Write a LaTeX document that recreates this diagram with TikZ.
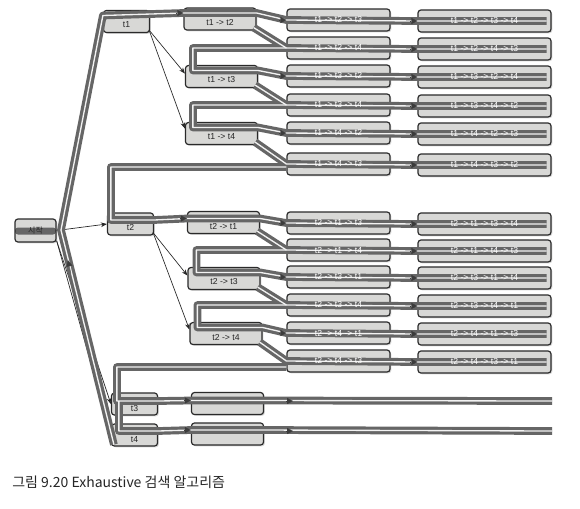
\documentclass[tikz,border=0pt]{standalone}
\usepackage{fontspec}
\setsansfont{Liberation Sans}
\newfontfamily\krfont{Noto Sans CJK KR}
\usetikzlibrary{arrows.meta,calc,shadows}
\definecolor{boxfill}{HTML}{D8D8D6}
\definecolor{boxline}{HTML}{2A2A2A}
\definecolor{trailgray}{HTML}{666666}
\definecolor{tipgray}{HTML}{3C3C3C}
\newcommand\trailpaths{%
  \draw[trail] ($(t4.south west)+(3,-2)$) -- (bendR) -- ($(t1.west)+(0,-6)$) -- ($(a.west)+(0,-6)$) -- ($(a.east)+(0,-6)$) -- (A1.west) -- (FA1.west) -- ($(FA1.east)+(-5,0)$);
  \draw[trail] ($(a.south east)+(-3,-3)$) -- (A2.west) -- (FA2.west) -- ($(FA2.east)+(-5,0)$);
  \draw[trail] (A2.west) -| ($(b.west)+(8,-6)$) -- ($(b.east)+(0,-6)$) -- (A3.west) -- (FA3.west) -- ($(FA3.east)+(-5,0)$);
  \draw[trail] ($(b.south east)+(-3,-3)$) -- (A4.west) -- (FA4.west) -- ($(FA4.east)+(-5,0)$);
  \draw[trail] (A4.west) -| ($(c.west)+(8,-6)$) -- ($(c.east)+(0,-6)$) -- (A5.west) -- (FA5.west) -- ($(FA5.east)+(-5,0)$);
  \draw[trail] ($(c.south east)+(-3,-3)$) -- (A6.west) -- (FA6.west) -- ($(FA6.east)+(-5,0)$);
  \draw[trail] ($(A6.west)+(0,3)$) -| ($(t2.west)+(4,-4)$) -- ($(t2.east)+(0,-4)$) -- ($(d.west)+(0,-4)$) -- ($(d.east)+(0,-4)$) -- (B1.west) -- (FB1.west) -- ($(FB1.east)+(-5,0)$);
  \draw[trail] ($(d.south east)+(-3,-3)$) -- (B2.west) -- (FB2.west) -- ($(FB2.east)+(-5,0)$);
  \draw[trail] (B2.west) -| ($(e.west)+(9,-6)$) -- ($(e.east)+(0,-6)$) -- (B3.west) -- (FB3.west) -- ($(FB3.east)+(-5,0)$);
  \draw[trail] ($(e.south east)+(-3,-3)$) -- (B4.west) -- (FB4.west) -- ($(FB4.east)+(-5,0)$);
  \draw[trail] (B4.west) -| ($(f.west)+(8,-6)$) -- ($(f.east)+(0,-6)$) -- (B5.west) -- (FB5.west) -- ($(FB5.east)+(-5,0)$);
  \draw[trail] ($(f.south east)+(-3,-3)$) -- (B6.west) -- (FB6.west) -- ($(FB6.east)+(-5,0)$);
  \draw[trail] ($(B6.west)+(0,6)$) -| ($(t3.west)+(6,-3)$) -- ($(t3.east)+(0,-3)$) -- ($(g.west)+(0,-3)$) -- ($(g.east)+(0,-3)$) -- (endA);
  \draw[trail] ($(t3.west)+(8,-3)$) -- ($(t4.west)+(8,-4)$) -- ($(t4.east)+(0,-4)$) -- ($(h.west)+(0,-4)$) -- ($(h.east)+(0,-4)$) -- (endB);
}
\begin{document}
\begin{tikzpicture}[x=0.75pt,y=-0.75pt,
  box/.style={draw=boxline, fill=boxfill, rounded corners=2.2pt, line width=0.9pt, inner sep=0pt,
    drop shadow={opacity=0.3, shadow xshift=1pt, shadow yshift=-1pt}},
  rootbox/.style={box, minimum width=30.75pt, minimum height=17.25pt,
    path picture={\fill[trailgray] ($(path picture bounding box.west)+(0,-3)$) rectangle ($(path picture bounding box.east)+(0,4)$);}},
  lone/.style={box, minimum width=34.5pt, minimum height=16.5pt},
  ltwo/.style={box, minimum width=54pt, minimum height=16.5pt},
  lthree/.style={box, minimum width=77.25pt, minimum height=16.5pt},
  lfour/.style={box, minimum width=99.75pt, minimum height=16.5pt},
  ttip/.style={draw=tipgray, line width=0.2pt, -{Triangle[length=4.5pt,width=4.5pt]}},
  tline/.style={draw=black!85, line width=0.5pt, -{Stealth[length=4.5pt,width=3.5pt]}},
  ltxt/.style={font=\sffamily\fontsize{6.5}{7}\selectfont, text=black!85, inner sep=0pt},
  wtxt/.style={font=\sffamily\fontsize{6.5}{7}\selectfont, text=white, inner sep=0pt}]
\fill[white] (0,0) rectangle (580,508);
\useasboundingbox (0,0) rectangle (580,508);

% fixed points
\coordinate (bendR) at (61,230);
\coordinate (endA) at (552,401);
\coordinate (endB) at (552,431);
\coordinate (gtip) at (293,401);
\coordinate (htip) at (293,431);

% boxes
\node[rootbox] (root) at (35.5,230.5) {};
\node[lone] (t1) at (126.5,21.5) {};
\node[lone] (t2) at (130.5,224) {};
\node[lone] (t3) at (134.5,404) {};
\node[lone] (t4) at (134.5,435) {};
\node[ltwo] (a) at (220,19) {};
\node[ltwo] (b) at (221.5,76.5) {};
\node[ltwo] (c) at (221.5,133.5) {};
\node[ltwo] (d) at (223.5,222.5) {};
\node[ltwo] (e) at (224,278.5) {};
\node[ltwo] (f) at (226,333.5) {};
\node[ltwo] (g) at (227.5,403.5) {};
\node[ltwo] (h) at (227.5,434) {};
\foreach \n/\y in {A1/20,A2/48,A3/76,A4/105,A5/133,A6/164,B1/223,B2/250,B3/277,B4/305,B5/333,B6/361}{
  \node[lthree] (\n) at (338.5,\y) {};
  \node[lfour] (F\n) at (484.5,\y+1) {};
}

% thin tree edges
\draw[tline] (root.east) -- (t2.west);
\draw[tline] ($(root.south east)+(0,-2)$) -- (t3.west);
\draw[tline] ($(root.south east)+(0,-2)$) -- (t4.west);
\draw[tline] ($(t1.south east)+(-1,-3)$) -- ($(b.west)+(0,-3)$);
\draw[tline] ($(t1.south east)+(-1,-3)$) -- ($(c.west)+(0,-5)$);
\draw[tline] ($(t2.south east)+(-1,-3)$) -- ($(e.west)+(0,-3)$);
\draw[tline] ($(t2.south east)+(-1,-3)$) -- ($(f.west)+(0,-4)$);

% search trail (gray band with light core)
\tikzset{trail/.style={draw=trailgray, line width=5.8pt, line join=round}}
\trailpaths
\tikzset{trail/.style={draw=white!90!gray, line width=1pt, line join=round}}
\trailpaths

% trail arrow heads
\draw[ttip] ($(a.west)+(-7,-6)$) -- ($(a.west)+(0,-6)$);
\draw[ttip] ($(d.west)+(-7,-4)$) -- ($(d.west)+(0,-4)$);
\draw[ttip] ($(g.west)+(-7,-3)$) -- ($(g.west)+(0,-3)$);
\draw[ttip] ($(h.west)+(-7,-4)$) -- ($(h.west)+(0,-4)$);
\draw[ttip] ($(gtip)+(-7,0)$) -- (gtip);
\draw[ttip] ($(htip)+(-7,0)$) -- (htip);
\draw[ttip] ($(t4.south west)!0.80!(bendR)$) -- ($(t4.south west)!0.86!(bendR)$);
\foreach \n in {A1,A3,A5,B1,B3,B5}{
  \draw[ttip] ($(\n.west)+(-7,0)$) -- (\n.west);
}
\foreach \n in {A1,A2,A3,A4,A5,A6,B1,B2,B3,B4,B5,B6}{
  \draw[ttip] ($(F\n.west)+(-7,0)$) -- (F\n.west);
}

% labels
\node[ltxt, font=\krfont\fontsize{6}{7}\selectfont] (root-t) at (root) {시작};
\node[ltxt] (t1-t) at ($(t1)+(0,3.5)$) {t1};
\node[ltxt] (t2-t) at ($(t2)+(0,3.5)$) {t2};
\node[ltxt] (t3-t) at ($(t3)+(0,4.5)$) {t3};
\node[ltxt] (t4-t) at ($(t4)+(0,4.5)$) {t4};
\node[ltxt] (a-t) at ($(a)+(0,3.5)$) {t1 -> t2};
\node[ltxt] (b-t) at ($(b)+(0,3.5)$) {t1 -> t3};
\node[ltxt] (c-t) at ($(c)+(0,3.5)$) {t1 -> t4};
\node[ltxt] (d-t) at ($(d)+(0,3.5)$) {t2 -> t1};
\node[ltxt] (e-t) at ($(e)+(0,3.5)$) {t2 -> t3};
\node[ltxt] (f-t) at ($(f)+(0,3.5)$) {t2 -> t4};
\foreach \n/\s/\f in {A1/t1 -> t2 -> t3/t1 -> t2 -> t3 -> t4, A2/t1 -> t2 -> t4/t1 -> t2 -> t4 -> t3,
  A3/t1 -> t3 -> t2/t1 -> t3 -> t2 -> t4, A4/t1 -> t3 -> t4/t1 -> t3 -> t4 -> t2,
  A5/t1 -> t4 -> t2/t1 -> t4 -> t2 -> t3, A6/t1 -> t4 -> t3/t1 -> t4 -> t3 -> t2,
  B1/t2 -> t1 -> t3/t2 -> t1 -> t3 -> t4, B2/t2 -> t1 -> t4/t2 -> t1 -> t4 -> t3,
  B3/t2 -> t3 -> t1/t2 -> t3 -> t1 -> t4, B4/t2 -> t3 -> t4/t2 -> t3 -> t4 -> t1,
  B5/t2 -> t4 -> t1/t2 -> t4 -> t1 -> t3, B6/t2 -> t4 -> t3/t2 -> t4 -> t3 -> t1}{
  \node[wtxt] (\n-t) at (\n) {\s};
  \node[wtxt] (F\n-t) at (F\n) {\f};
}

% caption
\node[anchor=west, inner sep=0pt, text=black!85, font=\krfont\fontsize{10.5}{12}\selectfont] (cap) at (12,482) {그림 9.20 Exhaustive 검색 알고리즘};
\end{tikzpicture}
\end{document}
